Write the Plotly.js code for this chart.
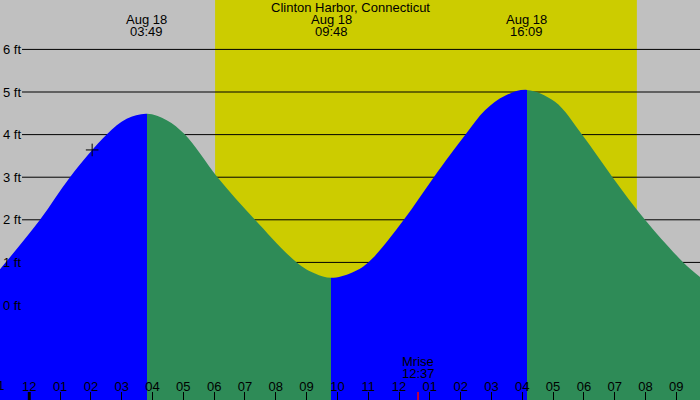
<!DOCTYPE html>
<html><head><meta charset="utf-8">
<script src="https://cdn.plot.ly/plotly-3.0.1.min.js"></script>
<style>html,body{margin:0;padding:0;background:#c0c0c0;}#chart{width:700px;height:400px;}</style>
</head><body><div id="chart"></div>
<script>
// ---- data ----
const stationName = 'Clinton Harbor, Connecticut';
// hours after midnight Aug 18
const tideHours = [-0.951, 0.347, 1.321, 2.512, 3.161, 3.817, 4.460, 5.054, 6.108, 7.326, 8.679, 9.273, 9.8,
                   10.464, 11.003, 12.155, 13.129, 14.158, 14.791, 15.440, 16.15, 17.063, 17.939, 18.929,
                   19.984, 21.227, 21.769];
const tideFeet  = [0.84, 2.0, 3.0, 4.0, 4.37, 4.49, 4.34, 4.0, 3.0, 2.0, 1.0, 0.74, 0.64,
                   0.76, 1.0, 2.0, 3.0, 4.0, 4.57, 4.91, 5.05, 4.77, 4.0, 3.0,
                   2.0, 1.0, 0.66];
const extremeHours = [3.817, 9.8, 16.15];
const extremeDates = ['Aug 18', 'Aug 18', 'Aug 18'];
const extremeTimes = ['03:49', '09:48', '16:09'];
const sunHours = [6.03, 19.72];
const moonHours = [12.617];
const moonLabels = ['Mrise'];
const moonTimes = ['12:37'];
const nowHour = [2.04];
const nowFeet = [3.64];
const hourTicks = [-1,0,1,2,3,4,5,6,7,8,9,10,11,12,13,14,15,16,17,18,19,20,21];
const hourLabels = ['11','12','01','02','03','04','05','06','07','08','09','10','11','12','01','02','03','04','05','06','07','08','09'];
const feetTicks = [0,1,2,3,4,5,6];
const feetLabels = ['0 ft','1 ft','2 ft','3 ft','4 ft','5 ft','6 ft'];

// ---- styling ----
const GRAY = '#c0c0c0', YELLOW = '#cccc00', BLUE = '#0000ff', GREEN = '#2e8b57';
const FONT = 'Liberation Sans, Arial, sans-serif';
const W = 700, H = 400;
const xStart = tideHours[0], xEnd = tideHours[tideHours.length - 1];
const yRange = [-2.23, 7.16];
const floorY = -3;

// colour bands: rising = blue, falling = green
const bounds = [xStart].concat(extremeHours, [xEnd]);
let rising = tideFeet[1] > tideFeet[0];
const cs = [];
for (let i = 0; i < bounds.length - 1; i++) {
  const c = rising ? BLUE : GREEN;
  const f0 = (bounds[i] - xStart) / (xEnd - xStart);
  const f1 = (bounds[i + 1] - xStart) / (xEnd - xStart);
  cs.push([Math.max(0, Math.min(1, f0)), c]);
  cs.push([Math.max(0, Math.min(1, f1)), c]);
  rising = !rising;
}
cs[0][0] = 0; cs[cs.length - 1][0] = 1;

const traces = [
  { x: [xStart, xEnd], y: [floorY, floorY], mode: 'lines', line: { width: 0 }, hoverinfo: 'skip', showlegend: false },
  { x: tideHours, y: tideFeet, mode: 'lines', line: { width: 0, shape: 'spline', smoothing: 1 },
    fill: 'tonexty', fillcolor: GREEN,
    fillgradient: { type: 'horizontal', colorscale: cs, start: xStart, stop: xEnd },
    hoverinfo: 'skip', showlegend: false },
  { x: nowHour, y: nowFeet, mode: 'markers', marker: { symbol: 'cross-thin', size: 9, line: { width: 1, color: '#000' }, color: '#000' },
    hoverinfo: 'skip', showlegend: false }
];

const shapes = [
  { type: 'rect', xref: 'x', yref: 'paper', x0: sunHours[0], x1: sunHours[1], y0: 0, y1: 1,
    fillcolor: YELLOW, line: { width: 0 }, layer: 'below' }
];
feetTicks.forEach(v => shapes.push({ type: 'line', xref: 'paper', yref: 'y', x0: 22 / W, x1: 1, y0: v, y1: v,
  line: { color: '#000', width: 1 }, layer: 'below' }));
// midnight marker
shapes.push({ type: 'line', xref: 'x', yref: 'paper', x0: 0, x1: 0, y0: 0, y1: 8 / H, line: { color: '#000', width: 3 }, layer: 'above' });
moonHours.forEach(v => shapes.push({ type: 'line', xref: 'x', yref: 'paper', x0: v, x1: v, y0: 0, y1: 8 / H,
  line: { color: '#ff0000', width: 1.5 }, layer: 'above' }));

const ann = [];
function txt(x, xref, py, text) {
  ann.push({ x: x, xref: xref, y: 1 - py / H, yref: 'paper', text: text, showarrow: false,
    xanchor: 'center', yanchor: 'middle', font: { family: FONT, size: 13, color: '#000' } });
}
txt(0.5, 'paper', 7.5, stationName);
extremeHours.forEach((h, i) => { txt(h, 'x', 19.5, extremeDates[i]); txt(h, 'x', 31.5, extremeTimes[i]); });
moonHours.forEach((h, i) => { txt(h, 'x', 361.5, moonLabels[i]); txt(h, 'x', 373.5, moonTimes[i]); });
// hour labels whose tick lies just left of the visible range (only partly visible)
hourTicks.forEach((h, i) => {
  if (h < xStart) txt((h - xStart) / (xEnd - xStart), 'paper', 385.5, hourLabels[i]);
});

const layout = {
  width: W, height: H, margin: { l: 0, r: 0, t: 0, b: 0 },
  paper_bgcolor: GRAY, plot_bgcolor: GRAY, showlegend: false,
  font: { family: FONT, size: 13, color: '#000' },
  xaxis: { range: [xStart, xEnd], tickvals: hourTicks, ticktext: hourLabels, ticks: 'inside', ticklen: 8,
    tickwidth: 1, tickcolor: '#000', ticklabelposition: 'inside', ticklabelstandoff: -2, showgrid: false, zeroline: false,
    showline: false, fixedrange: true, tickfont: { family: FONT, size: 13, color: '#000' } },
  yaxis: { range: yRange, tickvals: feetTicks, ticktext: feetLabels, ticks: '', ticklabelposition: 'inside',
    showgrid: false, zeroline: false, showline: false, fixedrange: true,
    tickfont: { family: FONT, size: 13, color: '#000' } },
  shapes: shapes, annotations: ann
};
Plotly.newPlot('chart', traces, layout, { staticPlot: true, displayModeBar: false });
</script></body></html>
